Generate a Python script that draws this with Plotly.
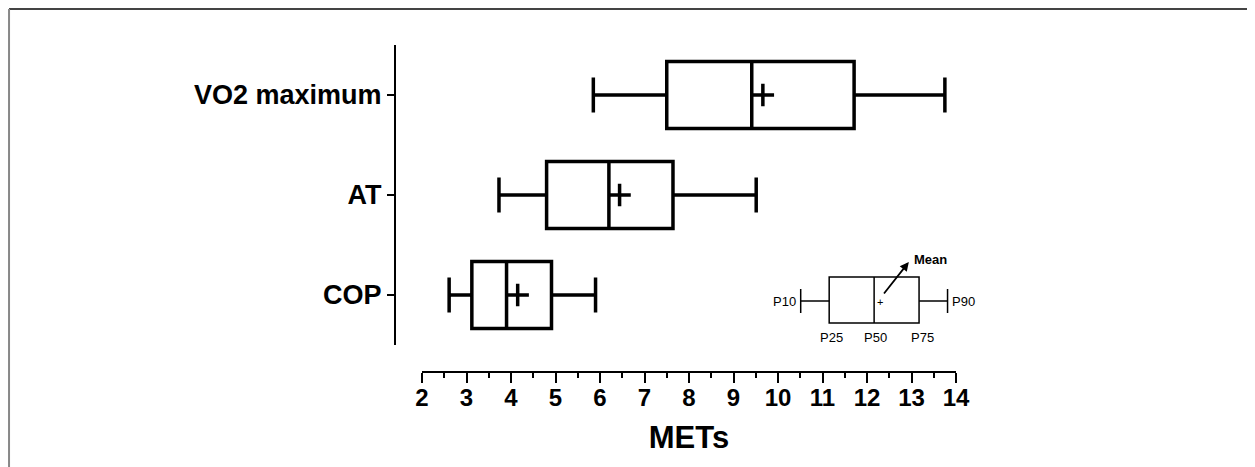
import plotly.graph_objects as go

categories = ["COP", "AT", "VO2 maximum"]
p10 = [2.61, 3.73, 5.85]
p25 = [3.12, 4.80, 7.50]
p50 = [3.90, 6.20, 9.41]
p75 = [4.91, 7.64, 11.71]
p90 = [5.90, 9.51, 13.75]
means = [4.15, 6.44, 9.66]
x_ticks = list(range(2, 15))

SANS = "Liberation Sans, Arial, sans-serif"

fig = go.Figure()
fig.add_trace(go.Box(
    y=categories, q1=p25, median=p50, q3=p75,
    lowerfence=p10, upperfence=p90,
    orientation="h", width=0.67, whiskerwidth=0.52,
    fillcolor="white", line=dict(color="black", width=3.5),
    boxpoints=False, hoverinfo="skip", showlegend=False,
))
fig.add_trace(go.Scatter(
    x=means, y=categories, mode="markers",
    marker=dict(symbol="cross-thin", size=16, line=dict(color="black", width=3.5)),
    showlegend=False, hoverinfo="skip",
))

# legend key (illustration)
k_p10, k_p25, k_p50, k_p75, k_p90 = 10.51, 11.15, 12.16, 13.17, 13.81
k_top, k_bot, k_mid, k_cap = 0.18, -0.28, -0.06, 0.12
lw = dict(color="black", width=1.5)
shapes = [
    dict(type="rect", xref="x", yref="y", x0=k_p25, x1=k_p75, y0=k_bot, y1=k_top, line=lw),
    dict(type="line", xref="x", yref="y", x0=k_p50, x1=k_p50, y0=k_bot, y1=k_top, line=lw),
    dict(type="line", xref="x", yref="y", x0=k_p10, x1=k_p25, y0=k_mid, y1=k_mid, line=lw),
    dict(type="line", xref="x", yref="y", x0=k_p75, x1=k_p90, y0=k_mid, y1=k_mid, line=lw),
    dict(type="line", xref="x", yref="y", x0=k_p10, x1=k_p10, y0=k_mid - k_cap, y1=k_mid + k_cap, line=lw),
    dict(type="line", xref="x", yref="y", x0=k_p90, x1=k_p90, y0=k_mid - k_cap, y1=k_mid + k_cap, line=lw),
    # figure frame
    dict(type="line", xref="paper", yref="paper", x0=-0.688, x1=1.6, y0=1.110, y1=1.110,
         line=dict(color="#444444", width=2)),
    dict(type="line", xref="paper", yref="paper", x0=-0.688, x1=-0.688, y0=1.110, y1=-0.4,
         line=dict(color="#888888", width=2)),
]
small = dict(family=SANS, size=13, color="black")
annotations = [
    dict(x=k_p10 - 0.06, y=k_mid, text="P10", showarrow=False, xanchor="right", font=small),
    dict(x=k_p90 + 0.06, y=k_mid, text="P90", showarrow=False, xanchor="left", font=small),
    dict(x=k_p25 + 0.06, y=-0.42, text="P25", showarrow=False, font=small),
    dict(x=k_p50 + 0.04, y=-0.42, text="P50", showarrow=False, font=small),
    dict(x=k_p75 + 0.07, y=-0.42, text="P75", showarrow=False, font=small),
    dict(x=12.29, y=-0.07, text="+", showarrow=False, font=dict(family=SANS, size=11, color="black")),
    dict(x=12.94, y=0.33, text="", showarrow=True, arrowhead=2, arrowsize=1, arrowwidth=1.8,
         arrowcolor="black", ax=-26, ay=33),
    dict(x=13.0, y=0.36, text="<b>Mean</b>", showarrow=False, xanchor="left",
         font=dict(family=SANS, size=13, color="black")),
]

fig.update_layout(
    width=1247, height=459, autosize=False,
    margin=dict(l=387, r=299, t=37, b=95),
    plot_bgcolor="white", paper_bgcolor="white",
    shapes=shapes, annotations=annotations,
    xaxis=dict(
        domain=[27 / 561, 1], range=[2, 14], anchor="free", position=0,
        tickvals=x_ticks, ticktext=[str(v) for v in x_ticks],
        showline=True, linecolor="black", linewidth=2,
        ticks="outside", ticklen=10, tickwidth=2, tickcolor="black",
        minor=dict(dtick=0.5, ticks="outside", ticklen=5, tickwidth=2, tickcolor="black", showgrid=False),
        showgrid=False, zeroline=False, ticklabelstandoff=-6,
        tickfont=dict(family=SANS, size=24, color="black", weight="bold"),
        title=dict(text="METs", font=dict(family=SANS, size=31, color="black", weight="bold"), standoff=16),
    ),
    yaxis=dict(
        domain=[27 / 327, 1], range=[-0.5, 2.5], anchor="free", position=0,
        type="category", categoryorder="array", categoryarray=categories,
        showline=True, linecolor="black", linewidth=2,
        ticks="outside", ticklen=7, tickwidth=2, tickcolor="black",
        showgrid=False, zeroline=False,
        tickfont=dict(family=SANS, size=27, color="black", weight="bold"),
    ),
)
fig.write_html("out.html")
